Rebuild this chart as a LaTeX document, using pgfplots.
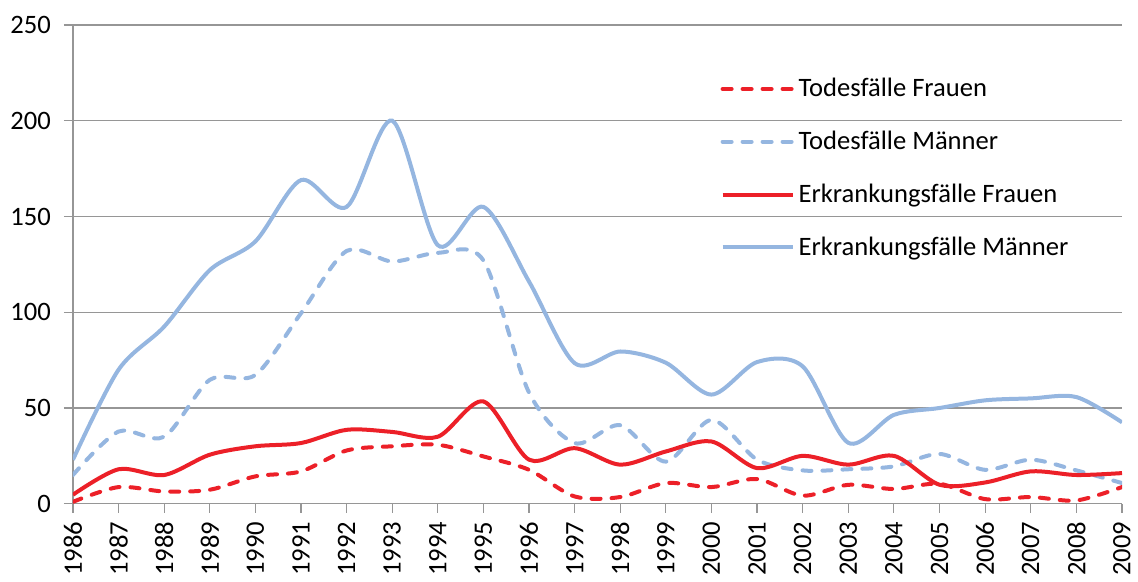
\documentclass[border=0pt]{standalone}
\usepackage{pgfplots}
\pgfplotsset{compat=1.18}
\usepackage{fontspec}
\setmainfont{Carlito}
\definecolor{cred}{RGB}{236,32,40}
\definecolor{cblue}{RGB}{149,182,224}
\definecolor{cgrid}{RGB}{150,150,150}
\pgfplotstableread{
year TF TM EF EM
1986 1.0 15.0 4.7 23.0
1987 8.7 37.7 18.0 70.0
1988 6.4 35.0 15.0 92.5
1989 7.3 64.7 25.6 122.0
1990 14.3 67.3 30.0 137.0
1991 16.9 99.5 31.7 169.0
1992 27.8 132.0 38.6 155.0
1993 30.0 126.5 37.5 200.0
1994 30.8 131.0 35.0 135.0
1995 24.7 127.0 53.4 155.0
1996 17.7 58.0 23.0 116.0
1997 3.8 31.7 29.0 73.4
1998 3.5 41.0 20.4 79.5
1999 10.8 22.0 27.3 73.6
2000 8.7 43.8 32.5 57.0
2001 12.9 23.0 18.6 74.0
2002 4.2 17.4 25.0 71.7
2003 9.9 18.0 20.4 31.8
2004 7.7 19.5 25.0 46.4
2005 10.4 26.0 9.9 50.0
2006 2.4 17.7 11.1 54.0
2007 3.5 23.0 16.9 55.0
2008 1.7 17.4 15.0 55.7
2009 8.7 10.8 16.0 42.5
}\datatable
\begin{document}
\begin{tikzpicture}
\begin{axis}[
  scale only axis,
  width=524.8pt, height=239.5pt,
  xmin=1986, xmax=2009, ymin=0, ymax=250,
  xtick={1986,...,2009}, ytick={0,50,...,250},
  xticklabel={\pgfmathprintnumber[1000 sep={}]{\tick}},
  font=\fontsize{13.3}{16}\selectfont,
  /pgf/number format/assume math mode=true,
  /pgf/number format/1000 sep={},
  ymajorgrids, major grid style={cgrid, line width=0.6pt},
  axis x line*=bottom, axis y line*=left,
  axis line style={cgrid, line width=0.6pt, -},
  tick style={cgrid, line width=0.6pt},
  tick align=outside, major tick length=4.5pt,
  xticklabel style={rotate=90, anchor=east, xshift=-1pt},
  yticklabel style={anchor=east, xshift=-3pt},
  legend style={draw=none, fill=none, at={(0.617,0.898)}, anchor=north west,
    font=\fontsize{13.3}{16}\selectfont, row sep=11.7pt, inner sep=0pt},
  legend cell align=left,
  legend image code/.code={\draw[#1] (0pt,0pt) -- (35pt,0pt);},
  every axis plot/.append style={line width=2pt, smooth, tension=0.5},
]
\addplot[cred, line cap=round, dash pattern=on 4.5pt off 5.5pt] table[x=year,y=TF]{\datatable};
\addlegendentry{Todesfälle Frauen}
\addplot[cblue, line cap=round, dash pattern=on 4.5pt off 5.5pt] table[x=year,y=TM]{\datatable};
\addlegendentry{Todesfälle Männer}
\addplot[cred] table[x=year,y=EF]{\datatable};
\addlegendentry{Erkrankungsfälle Frauen}
\addplot[cblue] table[x=year,y=EM]{\datatable};
\addlegendentry{Erkrankungsfälle Männer}
\end{axis}
\pgfresetboundingbox
\path (-36.5pt,-39pt) rectangle (532.8pt,252pt);
\end{tikzpicture}
\end{document}
